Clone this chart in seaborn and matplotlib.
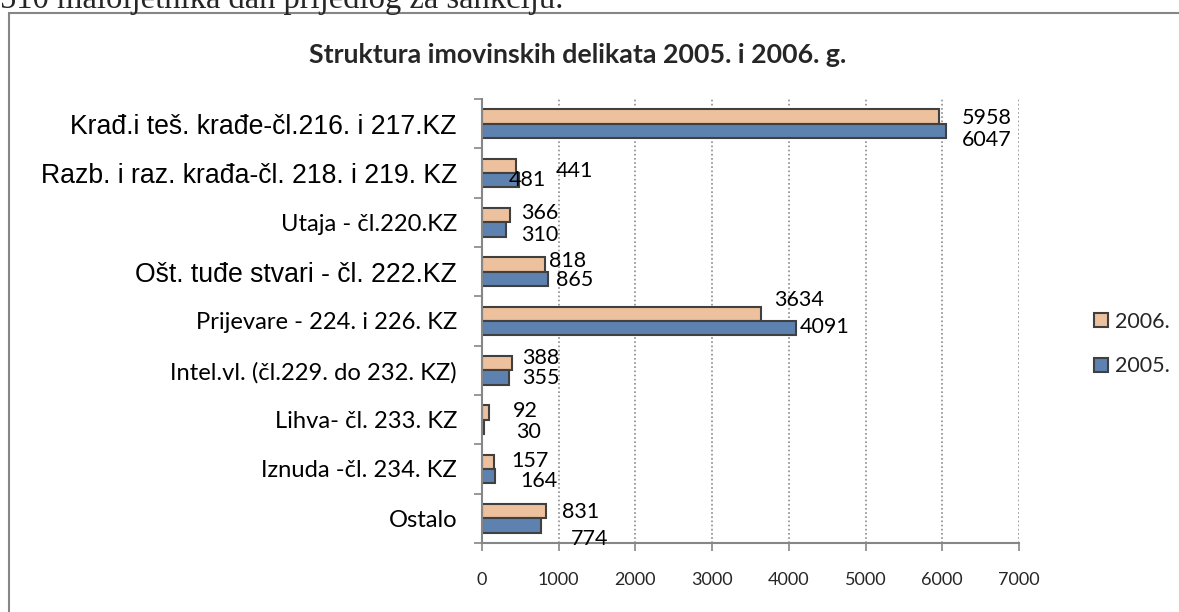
import pandas as pd
import matplotlib
matplotlib.use('Agg')
import matplotlib.pyplot as plt
from matplotlib.patches import Rectangle
import seaborn as sns

categories = [
    'Krađ.i teš. krađe-čl.216. i 217.KZ',
    'Razb. i raz. krađa-čl. 218. i 219. KZ',
    'Utaja - čl.220.KZ',
    'Ošt. tuđe stvari - čl. 222.KZ',
    'Prijevare - 224. i 226. KZ',
    'Intel.vl. (čl.229. do 232. KZ)',
    'Lihva- čl. 233. KZ',
    'Iznuda -čl. 234. KZ',
    'Ostalo',
]
values_2006 = [5958, 441, 366, 818, 3634, 388, 92, 157, 831]
values_2005 = [6047, 481, 310, 865, 4091, 355, 30, 164, 774]
series = ['2006.', '2005.']
x_ticks = [0, 1000, 2000, 3000, 4000, 5000, 6000, 7000]

# label nudges (pixels) as placed in the original
dx_2006 = [23, 40, 11, 4, 13, 10, 24, 17, 16]
dy_2006 = [1, 5, -2, -4, -14, -5, -2, -1, 1]
dx_2005 = [16, -10, 15, 8, 4, 13, 32, 26, 29]
dy_2005 = [9, 0, 6, 1, -1, 1, 5, 5, 14]
arial_rows = [0, 1, 3]

df = pd.DataFrame({
    'kategorija': categories * 2,
    'godina': [series[0]] * len(categories) + [series[1]] * len(categories),
    'broj': values_2006 + values_2005,
})

sns.set_theme(style='white')
plt.rcParams['font.family'] = ['Lato', 'DejaVu Sans']

fig = plt.figure(figsize=(11.79, 6.12), dpi=100)
ax = fig.add_axes([482 / 1179, 1 - 543 / 612, 537 / 1179, 444 / 612])

sns.barplot(data=df, y='kategorija', x='broj', hue='godina', hue_order=series,
            order=categories, palette=['#FAC090', '#4F81BD'], width=0.58,
            edgecolor='#404040', linewidth=1.5, ax=ax, orient='h')

ax.set_xlim(0, 7000)
ax.set_ylim(len(categories) - 0.5, -0.5)
ax.set_xticks(x_ticks)
ax.set_xticklabels([str(t) for t in x_ticks], fontsize=13)
ax.set_xlabel('')
ax.set_ylabel('')

ax.xaxis.grid(True, linestyle=(0, (1, 1.5)), color='#8c8c8c', linewidth=1.2)
ax.set_axisbelow(True)
for s in ['top', 'right']:
    ax.spines[s].set_visible(False)
for s in ['left', 'bottom']:
    ax.spines[s].set_color('#868686')
    ax.spines[s].set_linewidth(1.5)

ax.tick_params(axis='x', direction='out', length=6, width=1.2, color='#868686',
               bottom=True, pad=15)
ax.tick_params(axis='y', which='major', length=0, pad=18)
ax.set_yticks([i - 0.5 for i in range(len(categories) + 1)], minor=True)
ax.tick_params(axis='y', which='minor', direction='out', length=6, width=1.2,
               color='#868686', left=True)

for i, lab in enumerate(ax.get_yticklabels()):
    if i in arial_rows:
        lab.set_fontfamily('Liberation Sans')
        lab.set_fontsize(19.2)
    else:
        lab.set_fontfamily('Lato')
        lab.set_fontsize(17.1)
    lab.set_color('black')

for cont, dxs, dys in zip(ax.containers, [dx_2006, dx_2005], [dy_2006, dy_2005]):
    for bar, dx, dy in zip(cont, dxs, dys):
        ax.annotate(f'{int(bar.get_width())}',
                    xy=(bar.get_width(), bar.get_y() + bar.get_height() / 2),
                    xytext=(dx, -dy), textcoords='offset pixels',
                    ha='left', va='center', fontsize=15.5, color='black')

handles, labels = ax.get_legend_handles_labels()
ax.get_legend().remove()
leg = fig.legend(handles, labels, loc='center left',
                 bbox_to_anchor=(1083 / 1179, 1 - 344 / 612),
                 frameon=False, fontsize=15.5, handlelength=0.65, handleheight=0.65,
                 handletextpad=0.35, labelspacing=1.15, borderpad=0)

fig.text(578 / 1179, 1 - 55 / 612, 'Struktura imovinskih delikata 2005. i 2006. g.',
         ha='center', va='center', fontsize=19.3, fontweight='bold')

fig.add_artist(Rectangle((9 / 1179, -0.1), 1.2, 1 - 13 / 612 + 0.1,
                         transform=fig.transFigure, fill=False,
                         edgecolor='#868686', linewidth=1.5))
fig.text(0.0, 1 - 8 / 612, '510 maloljetnika dan prijedlog za sankciju.',
         ha='left', va='baseline', fontsize=23.5, family='Liberation Serif')

fig.savefig('out.png', dpi=100)
